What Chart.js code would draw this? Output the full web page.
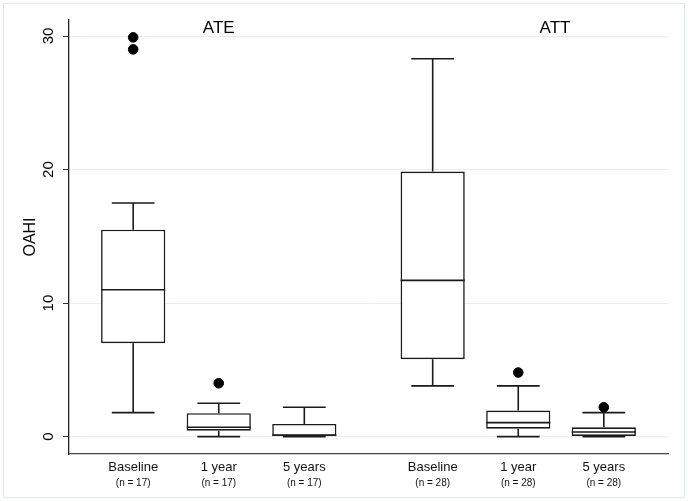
<!DOCTYPE html>
<html>
<head>
<meta charset="utf-8">
<script src="https://cdn.jsdelivr.net/npm/chart.js@4"></script>
<style>
  html, body { margin: 0; padding: 0; background: #fff; }
  #wrap { width: 688px; height: 501px; position: relative; }
</style>
</head>
<body>
<div id="wrap"><canvas id="chart"></canvas></div>
<script>
// OAHI by follow-up, two groups
var groupTitles = ['ATE', 'ATT'];
var timeLabels = ['Baseline', '1 year', '5 years', 'Baseline', '1 year', '5 years'];
var nLabels = ['(n = 17)', '(n = 17)', '(n = 17)', '(n = 28)', '(n = 28)', '(n = 28)'];
var yTicks = [0, 10, 20, 30];

var whiskerLow  = [1.8, 0,    0,    3.8,  0,    0];
var q1          = [7.0, 0.45, 0.05, 5.8,  0.6,  0.05];
var median      = [11.0, 0.7, 0.1,  11.7, 1.05, 0.35];
var q3          = [15.5, 1.75, 0.95, 19.85, 1.95, 0.7];
var whiskerHigh = [17.5, 2.5, 2.2,  28.3, 3.8,  1.8];
var outliers    = [[29.9, 29.0], [4.0], [], [], [4.8], [2.2]];

// x position of each box: 1,2,3 then a gap, 4.5,5.5,6.5
function xPos(i) { return i + 1 + Math.floor(i / 3) * 0.5; }

var boxData = q1.map(function (v, i) { return { x: xPos(i), y: [v, q3[i]] }; });
var outlierData = [];
outliers.forEach(function (list, i) {
    list.forEach(function (v) { outlierData.push({ x: xPos(i), y: v }); });
});
var tickPos = timeLabels.map(function (l, i) { return xPos(i); });

var FONT = "'Liberation Sans', Arial, Helvetica, sans-serif";
var INK = '#1a1a1a';

var boxPlugin = {
    id: 'boxExtras',
    beforeDraw: function (chart) {
        var ctx = chart.ctx;
        ctx.save();
        ctx.strokeStyle = '#e1e9f0';
        ctx.lineWidth = 1;
        ctx.strokeRect(3.5, 3.5, 681, 494);
        ctx.restore();
    },
    afterDatasetsDraw: function (chart) {
        var ctx = chart.ctx;
        var xs = chart.scales.x, ys = chart.scales.y;
        ctx.save();
        ctx.strokeStyle = INK;
        ctx.lineWidth = 1.6;
        for (var i = 0; i < median.length; i++) {
            var cx = xs.getPixelForValue(xPos(i));
            var capL = xs.getPixelForValue(xPos(i) - 0.25);
            var capR = xs.getPixelForValue(xPos(i) + 0.25);
            var boxL = xs.getPixelForValue(xPos(i) - 0.375);
            var boxR = xs.getPixelForValue(xPos(i) + 0.375);
            ctx.beginPath();
            // upper whisker + cap
            ctx.moveTo(cx, ys.getPixelForValue(q3[i]));
            ctx.lineTo(cx, ys.getPixelForValue(whiskerHigh[i]));
            ctx.moveTo(capL, ys.getPixelForValue(whiskerHigh[i]));
            ctx.lineTo(capR, ys.getPixelForValue(whiskerHigh[i]));
            // lower whisker + cap
            ctx.moveTo(cx, ys.getPixelForValue(q1[i]));
            ctx.lineTo(cx, ys.getPixelForValue(whiskerLow[i]));
            ctx.moveTo(capL, ys.getPixelForValue(whiskerLow[i]));
            ctx.lineTo(capR, ys.getPixelForValue(whiskerLow[i]));
            // median
            ctx.moveTo(boxL, ys.getPixelForValue(median[i]));
            ctx.lineTo(boxR, ys.getPixelForValue(median[i]));
            ctx.stroke();
        }
        // group titles
        ctx.fillStyle = '#000';
        ctx.font = '17px ' + FONT;
        ctx.textAlign = 'center';
        ctx.textBaseline = 'middle';
        var titleX = [2, 5.93];
        groupTitles.forEach(function (t, k) {
            ctx.fillText(t, xs.getPixelForValue(titleX[k]), ys.getPixelForValue(30.55));
        });
        ctx.restore();
    }
};

new Chart(document.getElementById('chart'), {
    type: 'bar',
    data: {
        datasets: [{
            type: 'scatter',
            data: outlierData,
            backgroundColor: '#000',
            borderColor: '#000',
            pointRadius: 4.8,
            pointHoverRadius: 4.8
        }, {
            data: boxData,
            backgroundColor: '#fff',
            borderColor: INK,
            borderWidth: 1.6,
            borderSkipped: false,
            barPercentage: 0.75,
            categoryPercentage: 1
        }]
    },
    options: {
        responsive: true,
        maintainAspectRatio: false,
        animation: false,
        layout: { padding: { left: 0, top: 20, right: 20, bottom: 9 } },
        plugins: {
            legend: { display: false },
            tooltip: { enabled: false }
        },
        scales: {
            x: {
                type: 'linear',
                position: 'bottom',
                offset: false,
                min: 0.25,
                max: 7.25,
                afterBuildTicks: function (s) { s.ticks = tickPos.map(function (v) { return { value: v }; }); },
                afterFit: function (s) { s.height = 22; },
                grid: { display: false, drawTicks: false, tickLength: 0 },
                border: { display: true, color: '#444', width: 1.3 },
                ticks: {
                    autoSkip: false,
                    maxRotation: 0,
                    padding: 6,
                    color: '#111',
                    font: { family: FONT, size: 13 },
                    callback: function (v, i) { return timeLabels[i]; }
                }
            },
            x2: {
                type: 'linear',
                position: 'bottom',
                offset: false,
                min: 0.25,
                max: 7.25,
                afterBuildTicks: function (s) { s.ticks = tickPos.map(function (v) { return { value: v }; }); },
                afterFit: function (s) { s.height = 16; },
                grid: { display: false, drawTicks: false, tickLength: 0 },
                border: { display: false },
                ticks: {
                    autoSkip: false,
                    maxRotation: 0,
                    padding: 1,
                    color: '#111',
                    font: { family: FONT, size: 10 },
                    callback: function (v, i) { return nLabels[i]; }
                }
            },
            y: {
                type: 'linear',
                min: -1.3,
                max: 31.2,
                afterBuildTicks: function (s) { s.ticks = yTicks.map(function (v) { return { value: v }; }); },
                afterFit: function (s) { s.width = 69; },
                grid: { color: '#e6eef5', lineWidth: 1, tickColor: '#333', tickLength: 6 },
                border: { display: true, color: '#222', width: 1.3 },
                title: {
                    display: true,
                    text: 'OAHI',
                    color: '#000',
                    font: { family: FONT, size: 16 },
                    padding: { top: 21, bottom: 0 }
                },
                ticks: {
                    minRotation: 90,
                    maxRotation: 90,
                    crossAlign: 'center',
                    padding: 6,
                    color: '#000',
                    font: { family: FONT, size: 15 }
                }
            }
        }
    },
    plugins: [boxPlugin]
});
</script>
</body>
</html>
